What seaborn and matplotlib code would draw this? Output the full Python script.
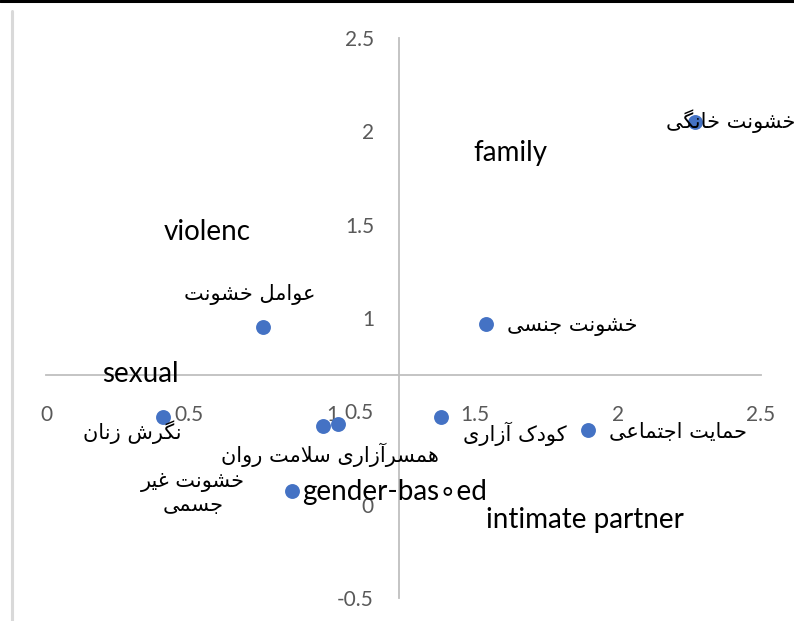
import matplotlib
matplotlib.use('Agg')
import matplotlib.pyplot as plt
import pandas as pd
import seaborn as sns
from matplotlib.lines import Line2D

# point values
x_vals = [2.27, 0.76, 1.54, 0.41, 0.97, 1.02, 1.38, 1.895, 0.86]
y_vals = [2.05, 0.95, 0.97, 0.47, 0.42, 0.43, 0.47, 0.40, 0.075]

x_ticks = [0, 0.5, 1, 1.5, 2, 2.5]
x_tick_labels = ['0', '0.5', '1', '1.5', '2', '2.5']
y_ticks = [-0.5, 0, 0.5, 1, 1.5, 2, 2.5]
y_tick_labels = ['-0.5', '0', '0.5', '1', '1.5', '2', '2.5']

fa_labels = ['خشونت خانگی', 'عوامل خشونت', 'خشونت جنسی', 'نگرش زنان',
             'همسرآزاری سلامت روان', 'کودک آزاری', 'حمایت اجتماعی',
             'خشونت غیر\nجسمی']
en_labels = ['family', 'violenc', 'sexual', 'gender-bas∘ed', 'intimate partner']

# label placement (data coords)
fa_pos = [(2.395, 2.057), (0.713, 1.125), (1.839, 0.959), (0.301, 0.391),
          (0.993, 0.268), (1.640, 0.380), (2.210, 0.391), (0.514, 0.059)]
en_pos = [(1.622, 1.885), (0.563, 1.462), (0.329, 0.702), (1.220, 0.070),
          (1.885, -0.080)]

# presentation forms: (isolated, final[, initial, medial])
FORMS = {
    'ا': (0xFE8D, 0xFE8E), 'آ': (0xFE81, 0xFE82), 'د': (0xFEA9, 0xFEAA),
    'ر': (0xFEAD, 0xFEAE), 'ز': (0xFEAF, 0xFEB0), 'و': (0xFEED, 0xFEEE),
    'ت': (0xFE95, 0xFE96, 0xFE97, 0xFE98), 'ج': (0xFE9D, 0xFE9E, 0xFE9F, 0xFEA0),
    'ح': (0xFEA1, 0xFEA2, 0xFEA3, 0xFEA4), 'خ': (0xFEA5, 0xFEA6, 0xFEA7, 0xFEA8),
    'س': (0xFEB1, 0xFEB2, 0xFEB3, 0xFEB4), 'ش': (0xFEB5, 0xFEB6, 0xFEB7, 0xFEB8),
    'ع': (0xFEC9, 0xFECA, 0xFECB, 0xFECC), 'غ': (0xFECD, 0xFECE, 0xFECF, 0xFED0),
    'ک': (0xFB8E, 0xFB8F, 0xFB90, 0xFB91), 'گ': (0xFB92, 0xFB93, 0xFB94, 0xFB95),
    'ل': (0xFEDD, 0xFEDE, 0xFEDF, 0xFEE0), 'م': (0xFEE1, 0xFEE2, 0xFEE3, 0xFEE4),
    'ن': (0xFEE5, 0xFEE6, 0xFEE7, 0xFEE8), 'ه': (0xFEE9, 0xFEEA, 0xFEEB, 0xFEEC),
    'ی': (0xFBFC, 0xFBFD, 0xFBFE, 0xFBFF),
}
LAM_ALEF = {'ا': (0xFEFB, 0xFEFC), 'آ': (0xFEF5, 0xFEF6)}


def shape_fa(text):
    """join Persian letters and put them in visual order for matplotlib"""
    lines = []
    for line in text.split('\n'):
        out = []
        i, n = 0, len(line)
        while i < n:
            ch = line[i]
            if ch not in FORMS:
                out.append(ch)
                i += 1
                continue
            prev = line[i - 1] if i > 0 else ''
            joins_prev = prev in FORMS and len(FORMS[prev]) == 4
            if ch == 'ل' and i + 1 < n and line[i + 1] in LAM_ALEF:
                lig = LAM_ALEF[line[i + 1]]
                out.append(chr(lig[1] if joins_prev else lig[0]))
                i += 2
                continue
            nxt = line[i + 1] if i + 1 < n else ''
            forms = FORMS[ch]
            joins_next = len(forms) == 4 and nxt in FORMS
            if joins_prev and joins_next:
                f = forms[3]
            elif joins_prev:
                f = forms[1]
            elif joins_next:
                f = forms[2]
            else:
                f = forms[0]
            out.append(chr(f))
            i += 1
        lines.append(''.join(reversed(out)))
    return '\n'.join(lines)


sns.set_theme(style='white')
plt.rcParams['font.family'] = ['Lato', 'DejaVu Sans']

df = pd.DataFrame({'x': x_vals, 'y': y_vals})

fig = plt.figure(figsize=(7.94, 6.21), dpi=100)
ax = fig.add_axes([46 / 794, 23 / 621, 715 / 794, 560 / 621])

sns.scatterplot(data=df, x='x', y='y', ax=ax, s=115, color='#4472C4',
                linewidth=0, zorder=3)

ax.set_xlim(0, 2.5)
ax.set_ylim(-0.5, 2.5)
ax.set_xticks(x_ticks, x_tick_labels)
ax.set_yticks(y_ticks, y_tick_labels)
ax.set_xlabel('')
ax.set_ylabel('')

# axes cross at the means, like the Excel chart
x_cross = df['x'].mean()
y_cross = df['y'].mean()
for side in ['top', 'right']:
    ax.spines[side].set_visible(False)
ax.spines['left'].set_position(('data', x_cross))
ax.spines['bottom'].set_position(('data', y_cross))
for side in ['left', 'bottom']:
    ax.spines[side].set_color('#BFBFBF')
    ax.spines[side].set_linewidth(1.3)
ax.tick_params(axis='x', length=0, pad=21, labelsize=15, labelcolor='#595959')
ax.tick_params(axis='y', length=0, pad=18, labelsize=15, labelcolor='#595959')

for lab, (tx, ty) in zip(fa_labels, fa_pos):
    ax.text(tx, ty, shape_fa(lab), ha='center', va='center', fontsize=15,
            family=['DejaVu Sans'], color='black', zorder=5)
for lab, (tx, ty) in zip(en_labels, en_pos):
    ax.text(tx, ty, lab, ha='center', va='center', fontsize=20,
            color='black', zorder=5)

# frame remnants of the screenshot
fig.add_artist(Line2D([0, 1], [1 - 1 / 621, 1 - 1 / 621], color='black',
                      linewidth=2.2))
fig.add_artist(Line2D([11.5 / 794, 11.5 / 794], [0, 1 - 11 / 621],
                      color='#D9D9D9', linewidth=2.2))

fig.savefig('out.png', dpi=100)
